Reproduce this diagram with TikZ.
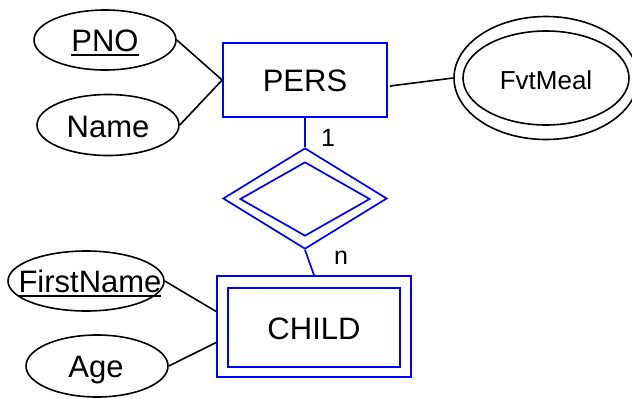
\documentclass[tikz,border=0pt]{standalone}
\usepackage{fontspec}
\setmainfont{Liberation Sans}
\newcommand\myul[1]{\setbox0\hbox{#1}\rlap{\rule[-4.5pt]{\wd0}{2pt}}\box0}
\usetikzlibrary{shapes.geometric,calc}
\definecolor{erblue}{RGB}{0,0,255}
\tikzset{
  attr/.style={ellipse,draw=black,line width=1.6pt,inner sep=0pt},
  lbl/.style={inner sep=0pt,font=\fontsize{31}{33}\selectfont,text height=22.2pt,text depth=0pt},
  entbox/.style={rectangle,draw=erblue,line width=1.7pt,inner sep=0pt},
  relshape/.style={diamond,draw=erblue,line width=1.7pt,inner sep=0pt},
  blk/.style={draw=black,line width=1.6pt},
  blu/.style={draw=erblue,line width=1.7pt},
  card/.style={font=\fontsize{25}{27}\selectfont,inner sep=0pt}
}
\begin{document}
\begin{tikzpicture}[x=1pt,y=-1pt]
\useasboundingbox (0,0) rectangle (632,399);
% entities
\node[entbox,minimum width=164pt,minimum height=74pt] (pers) at (305,80) {};
\node[lbl] (perstxt) at (pers.center) {PERS};
\node[entbox,minimum width=194pt,minimum height=101pt] (child) at (314,326.5) {};
\node[entbox,minimum width=172pt,minimum height=79pt] (childin) at (314,327.5) {};
\node[lbl] (childtxt) at (314,328) {CHILD};
% relationship
\node[relshape,minimum width=164pt,minimum height=101pt] (rel) at (305,198.5) {};
\node[relshape,minimum width=130pt,minimum height=74pt] (relin) at (305,199) {};
% attributes
\node[attr,minimum width=142pt,minimum height=60pt] (pno) at (105,40) {};
\node[lbl] (pnotxt) at (105,40) {\myul{PNO}};
\node[attr,minimum width=142pt,minimum height=61pt] (name) at (108,125) {};
\node[lbl] (nametxt) at (108,126) {Name};
\node[attr,minimum width=184pt,minimum height=123pt] (fvt) at (546,78) {};
\node[attr,minimum width=166pt,minimum height=94pt] (fvtin) at (546,78) {};
\node[lbl,font=\fontsize{26}{28}\selectfont,text height=18.6pt] (fvttxt) at (546,80) {FvtMeal};
\node[attr,minimum width=156pt,minimum height=60pt] (first) at (86,281) {};
\node[lbl] (firsttxt) at (90,281) {\myul{FirstName}};
\node[attr,minimum width=142pt,minimum height=62pt] (age) at (97,366) {};
\node[lbl] (agetxt) at (96,366) {Age};
% connectors
\draw[blk] (pno.east) -- (pers.west);
\draw[blk] (name.east) -- (pers.west);
\draw[blk] ([xshift=2pt,yshift=-6pt]pers.east) -- (fvt.west);
\draw[blu] (pers.south) -- (rel.north);
\draw[blu] (rel.south) -- (child.north);
\draw[blk] (first.east) -- ([yshift=15pt]child.west);
\draw[blk] (age.east) -- ([yshift=-16pt]child.west);
% cardinalities
\node[card] (c1) at (328,138) {1};
\node[card] (cn) at (341,258) {n};
\end{tikzpicture}
\end{document}
